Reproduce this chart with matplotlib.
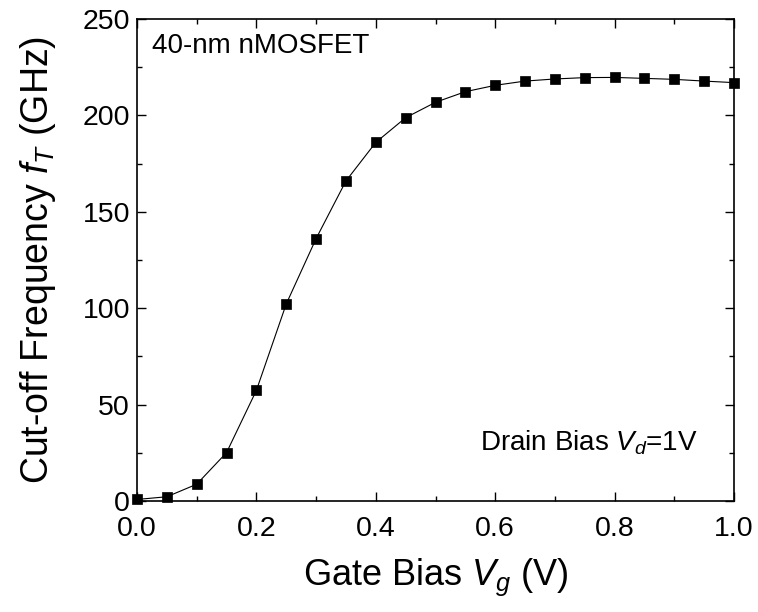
import numpy as np
import matplotlib
matplotlib.use('Agg')
import matplotlib.pyplot as plt
from matplotlib.ticker import MultipleLocator

plt.rcParams['font.family'] = ['Liberation Sans', 'DejaVu Sans']
plt.rcParams['mathtext.fontset'] = 'custom'
plt.rcParams['mathtext.rm'] = 'Liberation Sans'
plt.rcParams['mathtext.it'] = 'Liberation Sans:italic'
plt.rcParams['axes.linewidth'] = 1.2

# Data
gate_bias = [0.0, 0.05, 0.10, 0.15, 0.20, 0.25, 0.30, 0.35, 0.40, 0.45, 0.50,
             0.55, 0.60, 0.65, 0.70, 0.75, 0.80, 0.85, 0.90, 0.95, 1.0]
cutoff_freq = [0.8, 2.2, 8.7, 25.1, 57.4, 102.2, 136.1, 166.0, 186.0, 198.8, 206.8,
               212.3, 215.6, 217.8, 218.9, 219.6, 219.7, 219.2, 218.7, 217.8, 217.0]

fig = plt.figure(figsize=(7.58, 6.12), dpi=100)
ax = fig.add_axes([137 / 758, 1 - 501 / 612, 597 / 758, 482 / 612])

ax.plot(gate_bias, cutoff_freq, color='black', linewidth=0.8,
        marker='s', markersize=7.2, markerfacecolor='black',
        markeredgecolor='black', markeredgewidth=0.5, clip_on=False)

ax.set_xlim(0, 1.0)
ax.set_ylim(0, 250)
ax.xaxis.set_major_locator(MultipleLocator(0.2))
ax.xaxis.set_minor_locator(MultipleLocator(0.1))
ax.yaxis.set_major_locator(MultipleLocator(50))
ax.yaxis.set_minor_locator(MultipleLocator(25))
ax.tick_params(which='both', direction='in', top=True, right=True, width=1.0)
ax.tick_params(which='major', length=6.5, labelsize=20.5)
ax.tick_params(axis='x', which='major', pad=11)
ax.tick_params(axis='y', which='major', pad=5)
ax.tick_params(which='minor', length=3.5)
ax.set_xticklabels([f'{v:.1f}' for v in ax.get_xticks()])

ax.set_xlabel('Gate Bias $V_g$ (V)', fontsize=26, labelpad=10)
ax.set_ylabel('Cut-off Frequency $f_T$ (GHz)', fontsize=27, labelpad=18)

ax.text(0.025, 0.97, '40-nm nMOSFET', transform=ax.transAxes,
        fontsize=20, ha='left', va='top')
ax.text(0.94, 0.12, 'Drain Bias $V_d$=1V', transform=ax.transAxes,
        fontsize=20, ha='right', va='center')

fig.savefig('out.png', dpi=100)
